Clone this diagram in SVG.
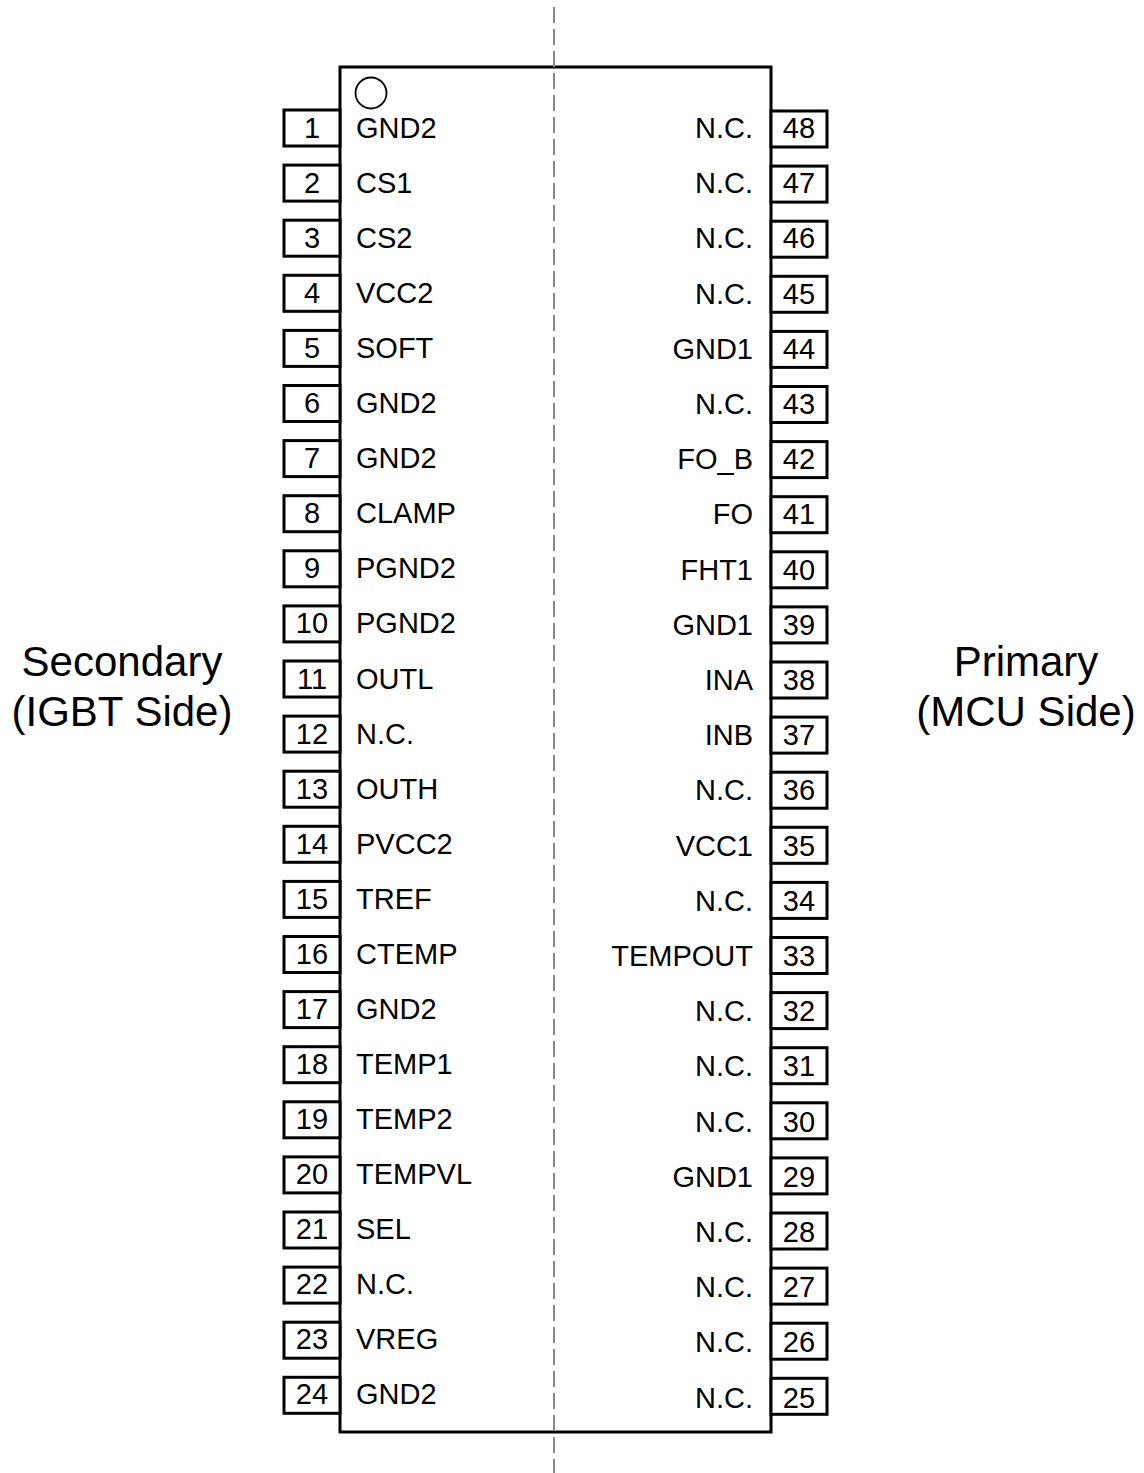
<svg xmlns="http://www.w3.org/2000/svg" width="1144" height="1473" viewBox="0 0 1144 1473">
<style>
.pin{fill:#fff;stroke:#000;stroke-width:3}
.body{fill:#fff;stroke:#000;stroke-width:3}
text{font-family:"Liberation Sans",Arial,sans-serif;fill:#000}
.t{font-size:29px}
.n{font-size:29px;text-anchor:middle}
.r{text-anchor:end}
.side{font-size:42px;text-anchor:middle}
.dash{stroke:#888;stroke-width:2;stroke-dasharray:16 6;fill:none}
</style>
<rect width="1144" height="1473" fill="#fff"/>
<g id="body">
<rect class="body" x="340" y="67" width="431" height="1365"/>
<circle cx="371" cy="93" r="15.5" fill="none" stroke="#000" stroke-width="1.8"/>
</g>
<g id="connectors">
<line class="dash" x1="554" y1="7" x2="554" y2="1473"/>
</g>
<g id="left-pins">
<g id="pin1"><rect class="pin" x="284" y="110" width="56" height="36"/><text class="n" x="312" y="138">1</text><text class="t" x="356" y="138">GND2</text></g>
<g id="pin2"><rect class="pin" x="284" y="165.1" width="56" height="36"/><text class="n" x="312" y="193.05">2</text><text class="t" x="356" y="193.05">CS1</text></g>
<g id="pin3"><rect class="pin" x="284" y="220.2" width="56" height="36"/><text class="n" x="312" y="248.1">3</text><text class="t" x="356" y="248.1">CS2</text></g>
<g id="pin4"><rect class="pin" x="284" y="275.3" width="56" height="36"/><text class="n" x="312" y="303.15">4</text><text class="t" x="356" y="303.15">VCC2</text></g>
<g id="pin5"><rect class="pin" x="284" y="330.4" width="56" height="36"/><text class="n" x="312" y="358.2">5</text><text class="t" x="356" y="358.2">SOFT</text></g>
<g id="pin6"><rect class="pin" x="284" y="385.5" width="56" height="36"/><text class="n" x="312" y="413.25">6</text><text class="t" x="356" y="413.25">GND2</text></g>
<g id="pin7"><rect class="pin" x="284" y="440.6" width="56" height="36"/><text class="n" x="312" y="468.3">7</text><text class="t" x="356" y="468.3">GND2</text></g>
<g id="pin8"><rect class="pin" x="284" y="495.7" width="56" height="36"/><text class="n" x="312" y="523.35">8</text><text class="t" x="356" y="523.35">CLAMP</text></g>
<g id="pin9"><rect class="pin" x="284" y="550.8" width="56" height="36"/><text class="n" x="312" y="578.4">9</text><text class="t" x="356" y="578.4">PGND2</text></g>
<g id="pin10"><rect class="pin" x="284" y="605.9" width="56" height="36"/><text class="n" x="312" y="633.45">10</text><text class="t" x="356" y="633.45">PGND2</text></g>
<g id="pin11"><rect class="pin" x="284" y="661" width="56" height="36"/><text class="n" x="312" y="688.5">11</text><text class="t" x="356" y="688.5">OUTL</text></g>
<g id="pin12"><rect class="pin" x="284" y="716.1" width="56" height="36"/><text class="n" x="312" y="743.55">12</text><text class="t" x="356" y="743.55">N.C.</text></g>
<g id="pin13"><rect class="pin" x="284" y="771.2" width="56" height="36"/><text class="n" x="312" y="798.6">13</text><text class="t" x="356" y="798.6">OUTH</text></g>
<g id="pin14"><rect class="pin" x="284" y="826.3" width="56" height="36"/><text class="n" x="312" y="853.65">14</text><text class="t" x="356" y="853.65">PVCC2</text></g>
<g id="pin15"><rect class="pin" x="284" y="881.4" width="56" height="36"/><text class="n" x="312" y="908.7">15</text><text class="t" x="356" y="908.7">TREF</text></g>
<g id="pin16"><rect class="pin" x="284" y="936.5" width="56" height="36"/><text class="n" x="312" y="963.75">16</text><text class="t" x="356" y="963.75">CTEMP</text></g>
<g id="pin17"><rect class="pin" x="284" y="991.6" width="56" height="36"/><text class="n" x="312" y="1018.8">17</text><text class="t" x="356" y="1018.8">GND2</text></g>
<g id="pin18"><rect class="pin" x="284" y="1046.7" width="56" height="36"/><text class="n" x="312" y="1073.85">18</text><text class="t" x="356" y="1073.85">TEMP1</text></g>
<g id="pin19"><rect class="pin" x="284" y="1101.8" width="56" height="36"/><text class="n" x="312" y="1128.9">19</text><text class="t" x="356" y="1128.9">TEMP2</text></g>
<g id="pin20"><rect class="pin" x="284" y="1156.9" width="56" height="36"/><text class="n" x="312" y="1183.95">20</text><text class="t" x="356" y="1183.95">TEMPVL</text></g>
<g id="pin21"><rect class="pin" x="284" y="1212" width="56" height="36"/><text class="n" x="312" y="1239">21</text><text class="t" x="356" y="1239">SEL</text></g>
<g id="pin22"><rect class="pin" x="284" y="1267.1" width="56" height="36"/><text class="n" x="312" y="1294.05">22</text><text class="t" x="356" y="1294.05">N.C.</text></g>
<g id="pin23"><rect class="pin" x="284" y="1322.2" width="56" height="36"/><text class="n" x="312" y="1349.1">23</text><text class="t" x="356" y="1349.1">VREG</text></g>
<g id="pin24"><rect class="pin" x="284" y="1377.3" width="56" height="36"/><text class="n" x="312" y="1404.15">24</text><text class="t" x="356" y="1404.15">GND2</text></g>
</g>
<g id="right-pins">
<g id="pin48"><rect class="pin" x="771" y="111" width="56" height="36"/><text class="n" x="799" y="138">48</text><text class="t r" x="753" y="138">N.C.</text></g>
<g id="pin47"><rect class="pin" x="771" y="166.1" width="56" height="36"/><text class="n" x="799" y="193.2">47</text><text class="t r" x="753" y="193.2">N.C.</text></g>
<g id="pin46"><rect class="pin" x="771" y="221.2" width="56" height="36"/><text class="n" x="799" y="248.4">46</text><text class="t r" x="753" y="248.4">N.C.</text></g>
<g id="pin45"><rect class="pin" x="771" y="276.3" width="56" height="36"/><text class="n" x="799" y="303.6">45</text><text class="t r" x="753" y="303.6">N.C.</text></g>
<g id="pin44"><rect class="pin" x="771" y="331.4" width="56" height="36"/><text class="n" x="799" y="358.8">44</text><text class="t r" x="753" y="358.8">GND1</text></g>
<g id="pin43"><rect class="pin" x="771" y="386.5" width="56" height="36"/><text class="n" x="799" y="414">43</text><text class="t r" x="753" y="414">N.C.</text></g>
<g id="pin42"><rect class="pin" x="771" y="441.6" width="56" height="36"/><text class="n" x="799" y="469.2">42</text><text class="t r" x="753" y="469.2">FO_B</text></g>
<g id="pin41"><rect class="pin" x="771" y="496.7" width="56" height="36"/><text class="n" x="799" y="524.4">41</text><text class="t r" x="753" y="524.4">FO</text></g>
<g id="pin40"><rect class="pin" x="771" y="551.8" width="56" height="36"/><text class="n" x="799" y="579.6">40</text><text class="t r" x="753" y="579.6">FHT1</text></g>
<g id="pin39"><rect class="pin" x="771" y="606.9" width="56" height="36"/><text class="n" x="799" y="634.8">39</text><text class="t r" x="753" y="634.8">GND1</text></g>
<g id="pin38"><rect class="pin" x="771" y="662" width="56" height="36"/><text class="n" x="799" y="690">38</text><text class="t r" x="753" y="690">INA</text></g>
<g id="pin37"><rect class="pin" x="771" y="717.1" width="56" height="36"/><text class="n" x="799" y="745.2">37</text><text class="t r" x="753" y="745.2">INB</text></g>
<g id="pin36"><rect class="pin" x="771" y="772.2" width="56" height="36"/><text class="n" x="799" y="800.4">36</text><text class="t r" x="753" y="800.4">N.C.</text></g>
<g id="pin35"><rect class="pin" x="771" y="827.3" width="56" height="36"/><text class="n" x="799" y="855.6">35</text><text class="t r" x="753" y="855.6">VCC1</text></g>
<g id="pin34"><rect class="pin" x="771" y="882.4" width="56" height="36"/><text class="n" x="799" y="910.8">34</text><text class="t r" x="753" y="910.8">N.C.</text></g>
<g id="pin33"><rect class="pin" x="771" y="937.5" width="56" height="36"/><text class="n" x="799" y="966">33</text><text class="t r" x="753" y="966">TEMPOUT</text></g>
<g id="pin32"><rect class="pin" x="771" y="992.6" width="56" height="36"/><text class="n" x="799" y="1021.2">32</text><text class="t r" x="753" y="1021.2">N.C.</text></g>
<g id="pin31"><rect class="pin" x="771" y="1047.7" width="56" height="36"/><text class="n" x="799" y="1076.4">31</text><text class="t r" x="753" y="1076.4">N.C.</text></g>
<g id="pin30"><rect class="pin" x="771" y="1102.8" width="56" height="36"/><text class="n" x="799" y="1131.6">30</text><text class="t r" x="753" y="1131.6">N.C.</text></g>
<g id="pin29"><rect class="pin" x="771" y="1157.9" width="56" height="36"/><text class="n" x="799" y="1186.8">29</text><text class="t r" x="753" y="1186.8">GND1</text></g>
<g id="pin28"><rect class="pin" x="771" y="1213" width="56" height="36"/><text class="n" x="799" y="1242">28</text><text class="t r" x="753" y="1242">N.C.</text></g>
<g id="pin27"><rect class="pin" x="771" y="1268.1" width="56" height="36"/><text class="n" x="799" y="1297.2">27</text><text class="t r" x="753" y="1297.2">N.C.</text></g>
<g id="pin26"><rect class="pin" x="771" y="1323.2" width="56" height="36"/><text class="n" x="799" y="1352.4">26</text><text class="t r" x="753" y="1352.4">N.C.</text></g>
<g id="pin25"><rect class="pin" x="771" y="1378.3" width="56" height="36"/><text class="n" x="799" y="1407.6">25</text><text class="t r" x="753" y="1407.6">N.C.</text></g>
</g>
<g id="secondary-label">
<text class="side" x="122" y="676">Secondary</text>
<text class="side" x="122" y="726">(IGBT Side)</text>
</g>
<g id="primary-label">
<text class="side" x="1026" y="676">Primary</text>
<text class="side" x="1026" y="726">(MCU Side)</text>
</g>
</svg>
